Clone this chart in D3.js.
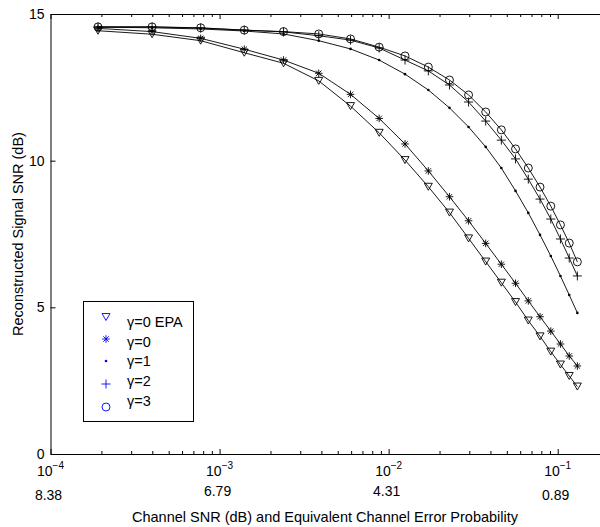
<!DOCTYPE html>
<html>
<head>
<meta charset="utf-8">
<script src="https://cdn.jsdelivr.net/npm/d3@7/dist/d3.min.js"></script>
<style>
body { margin: 0; background: #fff; }
text { font-family: "Liberation Sans", Arial, sans-serif; fill: #000; }
</style>
</head>
<body>
<svg id="chart" width="600" height="527"></svg>
<script>
// channel error probability of each simulated point (x)
var errProb = [1.91e-4, 3.99e-4, 7.73e-4, 1.40e-3, 2.39e-3, 3.86e-3, 5.95e-3, 8.79e-3,
    0.0125, 0.01717, 0.0229, 0.0297, 0.0375, 0.0464, 0.0563, 0.0670, 0.0786,
    0.0910, 0.1038, 0.1170, 0.1307];

// reconstructed signal SNR (dB) per gamma
var snrEpa = [14.43, 14.31, 14.09, 13.68, 13.32, 12.72, 11.86, 10.95, 10.02, 9.11, 8.23,
    7.35, 6.56, 5.84, 5.18, 4.55, 4.01, 3.49, 3.05, 2.66, 2.30];
var snrG0 = [14.51, 14.40, 14.17, 13.80, 13.43, 12.98, 12.26, 11.44, 10.57, 9.65, 8.77,
    7.95, 7.18, 6.47, 5.82, 5.22, 4.68, 4.19, 3.75, 3.34, 3.00];
var snrG1 = [14.55, 14.53, 14.49, 14.42, 14.32, 14.09, 13.81, 13.43, 12.95, 12.41, 11.80,
    11.15, 10.47, 9.75, 8.97, 8.22, 7.47, 6.75, 6.07, 5.42, 4.81];
var snrG2 = [14.56, 14.56, 14.52, 14.45, 14.39, 14.26, 14.11, 13.84, 13.43, 13.06, 12.58,
    12.00, 11.35, 10.70, 10.06, 9.37, 8.69, 8.01, 7.33, 6.68, 6.07];
var snrG3 = [14.56, 14.56, 14.53, 14.45, 14.40, 14.32, 14.15, 13.87, 13.57, 13.19, 12.75,
    12.24, 11.66, 11.05, 10.40, 9.75, 9.10, 8.45, 7.81, 7.19, 6.55];

var seriesNames = ["\u03b3=0 EPA", "\u03b3=0", "\u03b3=1", "\u03b3=2", "\u03b3=3"];

// axis ticks
var xMajor = [1e-4, 1e-3, 1e-2, 1e-1];
var xExpLabels = ["\u22124", "\u22123", "\u22122", "\u22121"];
var chanSnrLabels = ["8.38", "6.79", "4.31", "0.89"];
var yTicks = [0, 5, 10, 15];

var svg = d3.select("#chart");

var x = d3.scaleLog().domain([1e-4, 0.2]).range([50.5, 50.5 + 169.07 * Math.log10(2000)]);
var y = d3.scaleLinear().domain([0, 15]).range([454, 14]);

var series = [
    { name: seriesNames[0], values: snrEpa, marker: "tri" },
    { name: seriesNames[1], values: snrG0, marker: "star" },
    { name: seriesNames[2], values: snrG1, marker: "dot" },
    { name: seriesNames[3], values: snrG2, marker: "plus" },
    { name: seriesNames[4], values: snrG3, marker: "circle" }
];

function markerPath(kind) {
    if (kind == "tri") return "M-4,-3.5L4,-3.5L0,3.5Z";
    if (kind == "star") return "M-3.8,0H3.8M0,-3.8V3.8M-2.7,-2.7L2.7,2.7M-2.7,2.7L2.7,-2.7";
    if (kind == "plus") return "M-4.5,0H4.5M0,-4.5V4.5";
    if (kind == "circle") return "M4,0A4,4 0 1,1 -4,0A4,4 0 1,1 4,0Z";
    return "M1.3,0A1.3,1.3 0 1,1 -1.3,0A1.3,1.3 0 1,1 1.3,0Z";
}

// minor ticks on log axis
var xMinor = [];
xMajor.forEach(function (d) {
    for (var k = 2; k <= 9; k++) {
        if (d * k <= 0.2) xMinor.push(d * k);
    }
});

// AXES
var bottomAxis = svg.append("g").attr("transform", "translate(0,454)");
bottomAxis.call(d3.axisBottom(x).tickValues(xMajor).tickSize(-5).tickSizeOuter(0).tickFormat(""));
bottomAxis.append("g").call(d3.axisBottom(x).tickValues(xMinor).tickSize(-3).tickSizeOuter(0).tickFormat(""))
    .select(".domain").remove();

var topAxis = svg.append("g").attr("transform", "translate(0,14)");
topAxis.call(d3.axisTop(x).tickValues(xMajor).tickSize(-5).tickSizeOuter(0).tickFormat(""));
topAxis.append("g").call(d3.axisTop(x).tickValues(xMinor).tickSize(-3).tickSizeOuter(0).tickFormat(""))
    .select(".domain").remove();

var leftAxis = svg.append("g").attr("transform", "translate(50.5,0)");
leftAxis.call(d3.axisLeft(y).tickValues(yTicks).tickSize(-5).tickSizeOuter(0).tickPadding(6));
leftAxis.selectAll("text").style("font-size", "14px");
leftAxis.attr("font-family", null);
bottomAxis.attr("font-family", null);
topAxis.attr("font-family", null);

svg.selectAll(".domain, .tick line").attr("stroke", "#000").attr("stroke-width", 1);

// x tick labels as 10^n
var xl = svg.selectAll("text.xlab")
    .data(xMajor)
    .enter().append("text")
    .attr("class", "xlab")
    .attr("x", function (d) { return x(d); })
    .attr("y", 476)
    .attr("text-anchor", "middle")
    .style("font-size", "14px");
xl.append("tspan").text("10");
xl.append("tspan")
    .attr("dy", -7)
    .style("font-size", "10px")
    .text(function (d, i) { return xExpLabels[i]; });

// channel SNR row
svg.selectAll("text.snrlab")
    .data(chanSnrLabels)
    .enter().append("text")
    .attr("class", "snrlab")
    .attr("x", function (d, i) { return x(xMajor[i]) - 2; })
    .attr("y", function (d, i) { return (i == 0 || i == 3) ? 500 : 496; })
    .attr("text-anchor", "middle")
    .style("font-size", "14px")
    .text(function (d) { return d; });

svg.append("text")
    .attr("x", 325)
    .attr("y", 522)
    .attr("text-anchor", "middle")
    .style("font-size", "14.5px")
    .text("Channel SNR (dB) and Equivalent Channel Error Probability");

svg.append("text")
    .attr("transform", "translate(23,234) rotate(-90)")
    .attr("text-anchor", "middle")
    .style("font-size", "14.5px")
    .text("Reconstructed Signal SNR (dB)");

// LINES
var line = d3.line()
    .x(function (d, i) { return x(errProb[i]); })
    .y(function (d) { return y(d); });

var plot = svg.append("g");

plot.selectAll("path.curve")
    .data(series)
    .enter().append("path")
    .attr("class", "curve")
    .attr("d", function (s) { return line(s.values); })
    .attr("fill", "none")
    .attr("stroke", "#000")
    .attr("stroke-width", 0.9);

// MARKERS
series.forEach(function (s) {
    plot.selectAll("path.m-" + s.marker)
        .data(s.values)
        .enter().append("path")
        .attr("class", "m-" + s.marker)
        .attr("transform", function (d, i) {
            return "translate(" + x(errProb[i]) + "," + y(d) + ")";
        })
        .attr("d", markerPath(s.marker))
        .attr("fill", s.marker == "dot" ? "#000" : "none")
        .attr("stroke", "#000")
        .attr("stroke-width", s.marker == "dot" ? 0 : 0.9);
});

// LEGEND
var legend = svg.append("g");
legend.append("rect")
    .attr("x", 83.5).attr("y", 301.5)
    .attr("width", 110).attr("height", 120)
    .attr("fill", "#fff")
    .attr("stroke", "#000")
    .attr("stroke-width", 1);

var markerY = [317, 339, 361, 384, 407];
var textY = [327, 347, 366, 386, 406];

legend.selectAll("path.lm")
    .data(series)
    .enter().append("path")
    .attr("class", "lm")
    .attr("transform", function (d, i) { return "translate(106," + markerY[i] + ")"; })
    .attr("d", function (s) { return markerPath(s.marker); })
    .attr("fill", function (s) { return s.marker == "dot" ? "#00f" : "none"; })
    .attr("stroke", "#00f")
    .attr("stroke-width", function (s) { return s.marker == "dot" ? 0 : 0.9; });

legend.selectAll("text.lt")
    .data(series)
    .enter().append("text")
    .attr("class", "lt")
    .attr("x", 127)
    .attr("y", function (d, i) { return textY[i]; })
    .style("font-size", "14.5px")
    .text(function (s) { return s.name; });
</script>
</body>
</html>
